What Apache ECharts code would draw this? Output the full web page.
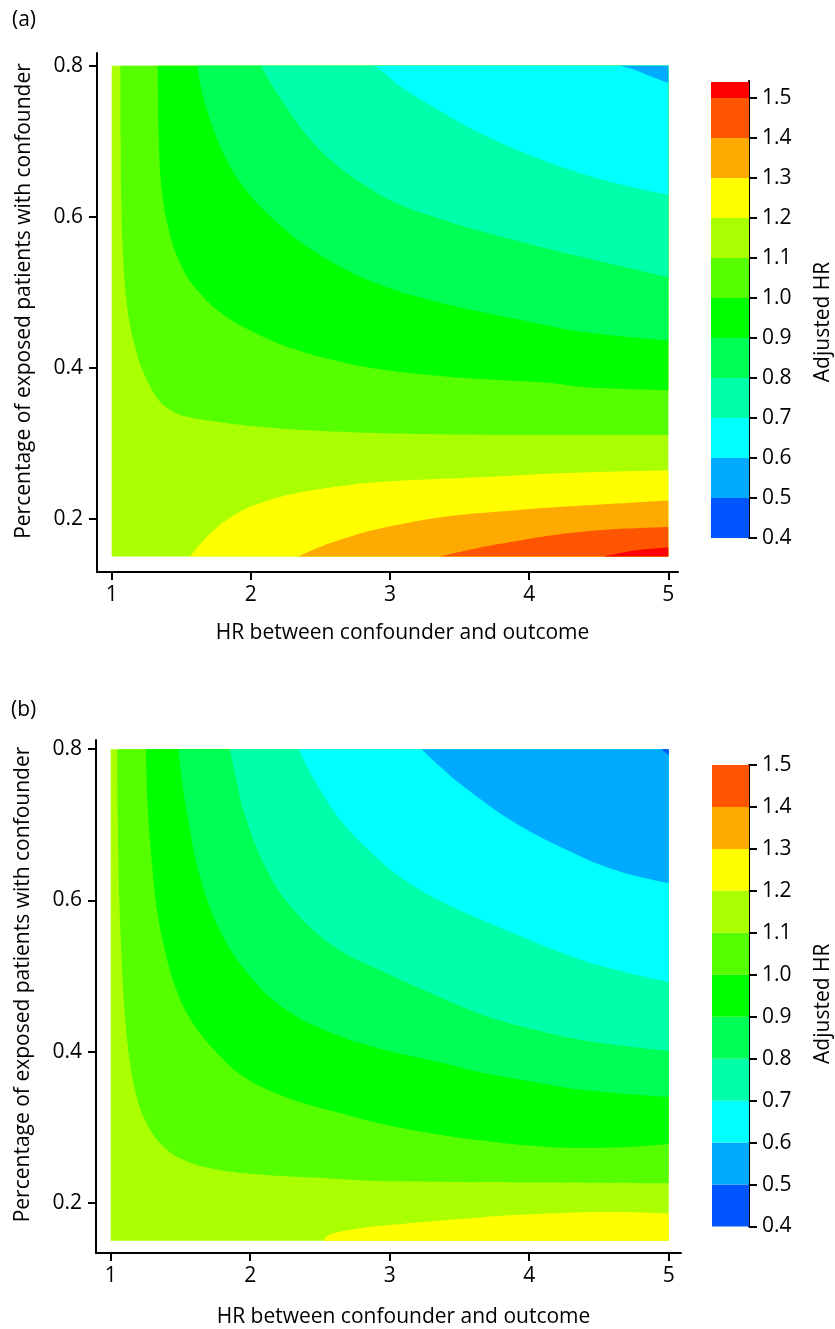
<!DOCTYPE html>
<html><head><meta charset="utf-8">
<script src="https://cdn.jsdelivr.net/npm/echarts@6/dist/echarts.min.js"></script>
<style>html,body{margin:0;padding:0;background:#fff}#c{width:835px;height:1329px}</style>
</head><body><div id="c"></div>
<script>
// ---------- tick labels ----------
const xTicks = [1, 2, 3, 4, 5];
const yTicks = [0.2, 0.4, 0.6, 0.8];
const cbTicks = [0.4, 0.5, 0.6, 0.7, 0.8, 0.9, 1.0, 1.1, 1.2, 1.3, 1.4, 1.5];
// colour-bar band edges (Adjusted HR)
const cbEdgesA = [0.4, 0.5, 0.6, 0.7, 0.8, 0.9, 1.0, 1.1, 1.2, 1.3, 1.4, 1.5, 1.54];
const cbEdgesB = [0.4, 0.5, 0.6, 0.7, 0.8, 0.9, 1.0, 1.1, 1.2, 1.3, 1.4, 1.5];
// data domain of the contour surface
const domainX = [1, 5];
const domainY = [0.15, 0.8];

// ---------- panel (a): contour lines [HR, proportion] ----------
// upper side: region above/right of the line has Adjusted HR < level
const a_lvl110 = [[1.062,0.8],[1.064,0.70],[1.069,0.62],[1.08,0.555],[1.10,0.50],[1.13,0.458],[1.17,0.426],[1.21,0.402],[1.26,0.381],[1.31,0.364],[1.37,0.351],[1.44,0.342],[1.52,0.336],[1.70,0.330],[2.04,0.322],[2.52,0.316],[3.0,0.313],[4.0,0.311],[5.0,0.311]];
const a_lvl100 = [[1.331,0.8],[1.336,0.72],[1.36,0.635],[1.42,0.575],[1.50,0.535],[1.60,0.506],[1.78,0.473],[2.01,0.448],[2.32,0.424],[2.64,0.408],[2.93,0.398],[3.36,0.389],[3.65,0.385],[4.13,0.380],[4.41,0.374],[5.0,0.370]];
const a_lvl090 = [[1.618,0.8],[1.64,0.772],[1.69,0.738],[1.80,0.685],[1.946,0.640],[2.161,0.597],[2.401,0.561],[2.713,0.527],[2.93,0.510],[3.2,0.494],[3.65,0.474],[4.0,0.461],[4.37,0.448],[5.0,0.436]];
const a_lvl080 = [[2.073,0.8],[2.15,0.775],[2.233,0.751],[2.401,0.708],[2.593,0.672],[2.833,0.640],[3.07,0.616],[3.36,0.597],[3.65,0.581],[4.0,0.564],[4.37,0.547],[5.0,0.520]];
const a_lvl070 = [[2.885,0.8],[2.95,0.792],[3.072,0.773],[3.359,0.740],[3.647,0.711],[4.0,0.682],[4.365,0.658],[4.7,0.641],[5.0,0.629]];
const a_lvl060 = [[4.653,0.8],[4.75,0.795],[4.845,0.788],[5.0,0.777]];
// lower side: region below/right of the line has Adjusted HR > level
const a_lvl120 = [[1.563,0.15],[1.62,0.163],[1.69,0.177],[1.80,0.195],[1.92,0.209],[2.042,0.219],[2.281,0.232],[2.641,0.243],[2.95,0.249],[3.647,0.255],[4.317,0.261],[5.0,0.264]];
const a_lvl130 = [[2.341,0.15],[2.45,0.159],[2.641,0.172],[2.928,0.187],[3.408,0.203],[3.886,0.211],[4.365,0.217],[5.0,0.224]];
const a_lvl140 = [[3.36,0.15],[3.6,0.16],[3.9,0.170],[4.126,0.177],[4.4,0.183],[4.605,0.186],[5.0,0.189]];
const a_lvl150 = [[4.533,0.15],[4.725,0.157],[4.85,0.160],[5.0,0.162]];

// ---------- panel (b) ----------
const b_lvl110 = [[1.047,0.8],[1.052,0.70],[1.062,0.60],[1.077,0.53],[1.095,0.465],[1.12,0.412],[1.16,0.362],[1.21,0.326],[1.28,0.298],[1.36,0.278],[1.47,0.262],[1.69,0.247],[2.05,0.238],[2.52,0.233],[2.93,0.229],[4.0,0.227],[5.0,0.226]];
const b_lvl100 = [[1.253,0.8],[1.264,0.73],[1.284,0.674],[1.330,0.590],[1.40,0.525],[1.47,0.482],[1.55,0.450],[1.65,0.422],[1.77,0.397],[1.90,0.374],[2.1,0.352],[2.35,0.334],[2.644,0.319],[2.93,0.305],[3.3,0.292],[3.647,0.283],[4.0,0.276],[4.365,0.273],[4.7,0.274],[5.0,0.278]];
const b_lvl090 = [[1.487,0.8],[1.51,0.76],[1.548,0.715],[1.640,0.632],[1.784,0.560],[1.999,0.500],[2.262,0.455],[2.596,0.424],[2.93,0.404],[3.361,0.386],[3.647,0.373],[4.0,0.361],[4.365,0.350],[5.0,0.340]];
const b_lvl080 = [[1.855,0.8],[1.90,0.76],[1.955,0.717],[2.118,0.641],[2.309,0.588],[2.596,0.540],[2.93,0.508],[3.3,0.477],[3.68,0.448],[4.0,0.431],[4.365,0.416],[5.0,0.401]];
const b_lvl070 = [[2.348,0.8],[2.40,0.78],[2.477,0.754],[2.644,0.707],[2.87,0.663],[3.074,0.631],[3.39,0.597],[3.886,0.557],[4.305,0.526],[4.65,0.507],[5.0,0.492]];
const b_lvl060 = [[3.229,0.8],[3.35,0.779],[3.528,0.751],[3.886,0.704],[4.244,0.669],[4.603,0.641],[5.0,0.623]];
const b_lvl050 = [[4.95,0.8],[5.0,0.792]];
const b_lvl120 = [[2.524,0.15],[2.55,0.156],[2.596,0.160],[2.763,0.166],[3.0,0.171],[3.647,0.181],[4.126,0.186],[4.603,0.188],[5.0,0.186]];

// ---------- styling ----------
const bandColor = {
  0.4:'#0055ff', 0.5:'#00aaff', 0.6:'#00ffff', 0.7:'#00ffaa', 0.8:'#00ff55', 0.9:'#00ff00',
  1.0:'#55ff00', 1.1:'#aaff00', 1.2:'#ffff00', 1.3:'#ffaa00', 1.4:'#ff5500', 1.5:'#ff0000'
};
const colorOfBand = lo => bandColor[Math.round(lo*10)/10];
const FONT = 'Open Sans';
const FS = 21;

const upperA = [[1.1,a_lvl110],[1.0,a_lvl100],[0.9,a_lvl090],[0.8,a_lvl080],[0.7,a_lvl070],[0.6,a_lvl060]];
const lowerA = [[1.2,a_lvl120],[1.3,a_lvl130],[1.4,a_lvl140],[1.5,a_lvl150]];
const upperB = [[1.1,b_lvl110],[1.0,b_lvl100],[0.9,b_lvl090],[0.8,b_lvl080],[0.7,b_lvl070],[0.6,b_lvl060],[0.5,b_lvl050]];
const lowerB = [[1.2,b_lvl120]];

function areaSeries(data, color, origin, idx, z) {
  return {
    type: 'line', xAxisIndex: idx, yAxisIndex: idx, data: data,
    symbol: 'none', showSymbol: false, smooth: 0.4,
    lineStyle: { width: 0, opacity: 0 },
    areaStyle: { color: color, opacity: 1, origin: origin },
    silent: true, z: z, animation: false
  };
}

function panelSeries(idx, upper, lower) {
  const s = [];
  s.push(areaSeries([[domainX[0], domainY[1]], [domainX[1], domainY[1]]], colorOfBand(1.1), domainY[0], idx, 1));
  upper.forEach(([lvl, d], i) => s.push(areaSeries(d, colorOfBand(lvl - 0.1), domainY[1], idx, 2 + i)));
  lower.forEach(([lvl, d], i) => s.push(areaSeries(d, colorOfBand(lvl), domainY[0], idx, 2 + i)));
  return s;
}

function colorbarSeries(idx, edges) {
  const areas = [];
  for (let i = 0; i < edges.length - 1; i++) {
    areas.push([{ yAxis: edges[i], itemStyle: { color: colorOfBand(edges[i]), opacity: 1, borderWidth: 0 } }, { yAxis: edges[i + 1] }]);
  }
  return {
    type: 'line', xAxisIndex: idx, yAxisIndex: idx, data: [[0, edges[0]]],
    symbol: 'none', lineStyle: { width: 0, opacity: 0 }, silent: true, animation: false,
    markArea: { silent: true, data: areas, label: { show: false } }
  };
}

const axisCommon = {
  axisLine: { show: true, onZero: false, lineStyle: { color: '#000', width: 2 } },
  splitLine: { show: false },
  nameTextStyle: { color: '#000', fontSize: FS, fontFamily: FONT }
};

function xAx(idx, min, max, padLeft, gap) {
  return Object.assign({}, axisCommon, {
    type: 'value', gridIndex: idx, min: min, max: max,
    axisTick: { show: true, length: 8, lineStyle: { color: '#000', width: 2 }, customValues: xTicks },
    axisLabel: { customValues: xTicks, margin: 13, color: '#000', fontSize: FS, fontFamily: FONT, formatter: v => String(v) },
    name: 'HR between confounder and outcome', nameLocation: 'middle', nameGap: gap,
    nameTextStyle: { color: '#000', fontSize: FS, fontFamily: FONT, padding: [0, 0, 0, padLeft] }
  });
}
function yAx(idx, min, max, padLeft) {
  return Object.assign({}, axisCommon, {
    type: 'value', gridIndex: idx, min: min, max: max,
    axisTick: { show: true, length: 8, lineStyle: { color: '#000', width: 2 }, customValues: yTicks },
    axisLabel: { customValues: yTicks, margin: 14, color: '#000', fontSize: FS, fontFamily: FONT, formatter: v => v.toFixed(1) },
    name: 'Percentage of exposed patients with confounder', nameLocation: 'middle', nameGap: 62, nameRotate: 90,
    nameTextStyle: { color: '#000', fontSize: FS, fontFamily: FONT, padding: [0, 0, 0, padLeft] }
  });
}
function cbX(idx) {
  return { type: 'value', gridIndex: idx, min: 0, max: 1, show: false };
}
function cbY(idx, max, padRight) {
  return Object.assign({}, axisCommon, {
    type: 'value', gridIndex: idx, position: 'right', min: 0.4, max: max,
    axisTick: { show: true, length: 8, lineStyle: { color: '#000', width: 2 }, customValues: cbTicks },
    axisLabel: { customValues: cbTicks, margin: 13, color: '#000', fontSize: FS, fontFamily: FONT, formatter: v => v.toFixed(1) },
    name: 'Adjusted HR', nameLocation: 'middle', nameGap: 64, nameRotate: 90,
    nameTextStyle: { color: '#000', fontSize: FS, fontFamily: FONT, padding: [0, padRight, 0, 0] }
  });
}

const option = {
  animation: false,
  backgroundColor: '#fff',
  textStyle: { fontFamily: FONT },
  grid: [
    { left: 97, top: 53, width: 581, height: 519 },
    { left: 96, top: 740, width: 585, height: 516 },
    { left: 711, top: 81, width: 38, height: 457 },
    { left: 712, top: 765, width: 38.5, height: 461.5 }
  ],
  xAxis: [xAx(0, 0.89436, 5.0697, 30, 51), xAx(1, 0.89462, 5.0881, 30, 54), cbX(2), cbX(3)],
  yAxis: [yAx(0, 0.1294, 0.81682, 23), yAx(1, 0.13391, 0.81223, 24), cbY(2, 1.5425, 25), cbY(3, 1.5, 16)],
  series: [].concat(
    panelSeries(0, upperA, lowerA),
    panelSeries(1, upperB, lowerB),
    [colorbarSeries(2, cbEdgesA), colorbarSeries(3, cbEdgesB)]
  ),
  graphic: [
    { type: 'text', left: 12, top: 10, style: { text: '(a)', fontSize: FS, fontFamily: FONT, fill: '#000' } },
    { type: 'text', left: 11, top: 700, style: { text: '(b)', fontSize: FS, fontFamily: FONT, fill: '#000' } }
  ]
};
const chart = echarts.init(document.getElementById('c'), null, { renderer: 'canvas' });
chart.setOption(option);
</script></body></html>
